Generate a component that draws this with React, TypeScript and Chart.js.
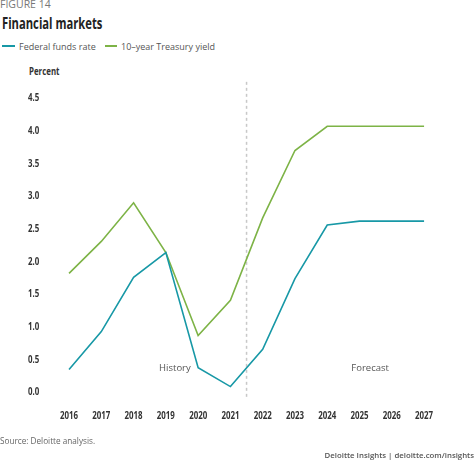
import React, { useEffect, useRef } from "react";
import { Chart, registerables } from "chart.js";

Chart.register(...registerables);

const years = ["2016", "2017", "2018", "2019", "2020", "2021", "2022", "2023", "2024", "2025", "2026", "2027"];
const fedFundsRate = [0.35, 0.93, 1.76, 2.14, 0.38, 0.09, 0.66, 1.74, 2.56, 2.62, 2.62, 2.62];
const treasuryYield = [1.82, 2.31, 2.9, 2.14, 0.87, 1.41, 2.67, 3.7, 4.07, 4.07, 4.07, 4.07];
const yTickValues = [0, 0.5, 1.0, 1.5, 2.0, 2.5, 3.0, 3.5, 4.0, 4.5];
const phaseLabels = ["History", "Forecast"];
const phaseLabelX = [3.28, 9.33];
const phaseLabelY = [0.375, 0.375];
const dividerX = 5.5;

const SANS = '"Open Sans", "Noto Sans", sans-serif';
const TEAL = "#1798A6";
const GREEN = "#7DB346";
const AXIS_FONT = `bold 10.5px ${SANS}`;
const SQUEEZE = 0.75;

const overlayPlugin = {
  id: "overlay",
  beforeDatasetsDraw(chart: any) {
    const { ctx, scales } = chart;
    const x = scales.x.getPixelForValue(dividerX);
    const top = scales.y.getPixelForValue(4.75);
    const bottom = scales.y.getPixelForValue(-0.11);
    ctx.save();
    ctx.strokeStyle = "#c8c8c8";
    ctx.lineWidth = 1.5;
    ctx.setLineDash([3, 3]);
    ctx.beginPath();
    ctx.moveTo(x, top);
    ctx.lineTo(x, bottom);
    ctx.stroke();
    ctx.restore();
  },
  afterDatasetsDraw(chart: any) {
    const { ctx, scales } = chart;
    ctx.save();
    ctx.font = `9.5px ${SANS}`;
    ctx.fillStyle = "#555";
    ctx.textAlign = "center";
    ctx.textBaseline = "middle";
    phaseLabels.forEach((t, i) => {
      ctx.fillText(t, scales.x.getPixelForValue(phaseLabelX[i]), scales.y.getPixelForValue(phaseLabelY[i]));
    });
    ctx.restore();

    // axis tick labels (condensed bold)
    ctx.save();
    ctx.font = AXIS_FONT;
    ctx.fillStyle = "#333";
    ctx.textBaseline = "middle";
    yTickValues.forEach((v) => {
      const y = scales.y.getPixelForValue(v);
      ctx.save();
      ctx.translate(28, y);
      ctx.scale(SQUEEZE, 1);
      ctx.textAlign = "left";
      ctx.fillText(v.toFixed(1), 0, 0);
      ctx.restore();
    });
    years.forEach((label, i) => {
      const x = scales.x.getPixelForValue(i);
      ctx.save();
      ctx.translate(x, 416);
      ctx.scale(SQUEEZE, 1);
      ctx.textAlign = "center";
      ctx.fillText(label, 0, 0);
      ctx.restore();
    });
    ctx.restore();
  },
};

export default function App() {
  const ref = useRef<HTMLCanvasElement>(null);
  useEffect(() => {
    document.body.style.margin = "0";
    const chart = new Chart(ref.current!, {
      type: "line",
      data: {
        labels: years,
        datasets: [
          { label: "Federal funds rate", data: fedFundsRate, borderColor: TEAL, borderWidth: 1.6, pointRadius: 0, tension: 0, fill: false },
          { label: "10–year Treasury yield", data: treasuryYield, borderColor: GREEN, borderWidth: 1.6, pointRadius: 0, tension: 0, fill: false },
        ],
      },
      options: {
        animation: false,
        responsive: false,
        maintainAspectRatio: false,
        layout: { padding: { left: 52.9, right: 33.8, top: 85.1, bottom: 64 } },
        plugins: { legend: { display: false }, tooltip: { enabled: false }, title: { display: false } },
        scales: {
          x: { type: "category", offset: true, display: false },
          y: { min: -0.1, max: 4.7, display: false },
        },
      },
      plugins: [overlayPlugin],
    } as any);
    return () => chart.destroy();
  }, []);

  const legendItem = (color: string, text: string, left: number, dash: number) => (
    <div style={{ position: "absolute", left, top: 40, display: "flex", alignItems: "center", height: 12 }}>
      <div style={{ width: dash, height: 2, background: color, marginRight: 4 }} />
      <span style={{ fontFamily: SANS, fontSize: 9, color: "#555", whiteSpace: "nowrap" }}>{text}</span>
    </div>
  );

  const squeezed = (extra: React.CSSProperties, text: string) => (
    <div
      style={{
        position: "absolute",
        fontFamily: SANS,
        fontWeight: "bold",
        whiteSpace: "nowrap",
        transform: `scaleX(${SQUEEZE})`,
        transformOrigin: "left top",
        ...extra,
      }}
    >
      {text}
    </div>
  );

  return (
    <div style={{ position: "relative", width: 474, height: 463, background: "#fff", overflow: "hidden" }}>
      <div style={{ position: "absolute", left: 0, top: -3.5, fontFamily: SANS, fontSize: 10.5, color: "#777", whiteSpace: "nowrap" }}>FIGURE 14</div>
      {squeezed({ left: 2, top: 11, fontSize: 16.5, color: "#222", transform: "scaleX(0.68)" }, "Financial markets")}
      {legendItem(TEAL, "Federal funds rate", 2, 13)}
      {legendItem(GREEN, "10–year Treasury yield", 105, 12)}
      {squeezed({ left: 29, top: 63.6, fontSize: 10.5, color: "#333" }, "Percent")}
      <canvas ref={ref} width={474} height={463} style={{ position: "absolute", left: 0, top: 0 }} />
      <div style={{ position: "absolute", left: 0, top: 435, fontFamily: SANS, fontSize: 8.2, color: "#666", whiteSpace: "nowrap" }}>Source: Deloitte analysis.</div>
      <div style={{ position: "absolute", right: 0, top: 449.5, fontFamily: SANS, fontSize: 7.8, fontWeight: 600, color: "#555", whiteSpace: "nowrap" }}>Deloitte Insights | deloitte.com/insights</div>
    </div>
  );
}
